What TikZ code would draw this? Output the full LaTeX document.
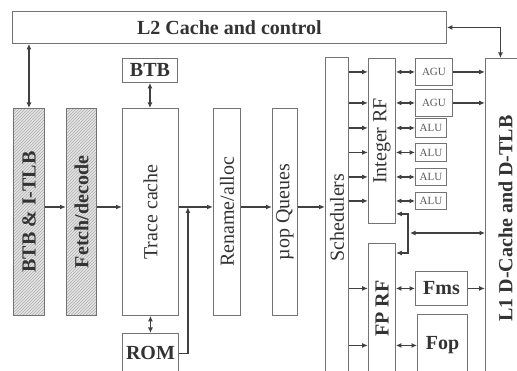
\documentclass[tikz,border=0pt]{standalone}
\usepackage{fontspec}
\setmainfont{Liberation Serif}
\usetikzlibrary{arrows.meta, patterns}

\begin{document}
\begin{tikzpicture}[
    x=1pt, y=-1pt,
    box/.style={rectangle, draw=black!55, line width=0.9pt, fill=white, anchor=north west, inner sep=0pt, text=black!80, font=\fontsize{20}{22}\selectfont},
    hatch/.style={box, preaction={fill=gray!22}, pattern=north east lines, pattern color=gray!60},
    unit/.style={box, text=black!65, font=\fontsize{11}{12}\selectfont},
    arrow/.style={-{Latex[length=6pt,width=5pt]}, line width=1.6pt, draw=black!75},
    darrow/.style={{Latex[length=5.5pt,width=5pt]}-{Latex[length=5.5pt,width=5pt]}, line width=1.6pt, draw=black!75}
]
\useasboundingbox (0,0) rectangle (517,371);
\clip (0,0) rectangle (517,371);

\node[box, minimum width=434, minimum height=32] (l2) at (12,11) {\textbf{L2 Cache and control}};
\node[box, minimum width=55, minimum height=24] (btb) at (122,58) {\textbf{BTB}};
\node[hatch, minimum width=31, minimum height=207] (itlb) at (13,108) {\rotatebox{90}{\textbf{BTB \& I-TLB}}};
\node[hatch, minimum width=30, minimum height=207] (fetch) at (66,108) {\rotatebox{90}{\textbf{Fetch/decode}}};
\node[box, minimum width=56, minimum height=207] (trace) at (122,108) {\rotatebox{90}{Trace cache}};
\node[box, minimum width=56, minimum height=40] (rom) at (122,333) {\textbf{ROM}};
\node[box, minimum width=27, minimum height=207] (rename) at (213,108) {\rotatebox{90}{Rename/alloc}};
\node[box, minimum width=25, minimum height=207] (queues) at (272,108) {\rotatebox{90}{µop Queues}};
\node[box, minimum width=23, minimum height=320] (sched) at (325,57) {\rotatebox{90}{Schedulers}};
\node[box, minimum width=27, minimum height=165] (intrf) at (368,58) {\rotatebox{90}{Integer RF}};
\node[box, minimum width=27, minimum height=130] (fprf) at (368,243) {\rotatebox{90}{\textbf{FP RF}}};
\node[unit, minimum width=37, minimum height=27] (agu1) at (415,58) {AGU};
\node[unit, minimum width=37, minimum height=27] (agu2) at (415,89) {AGU};
\node[unit, minimum width=31, minimum height=19] (alu1) at (415,118) {ALU};
\node[unit, minimum width=31, minimum height=18] (alu2) at (415,143) {ALU};
\node[unit, minimum width=31, minimum height=17] (alu3) at (415,168) {ALU};
\node[unit, minimum width=31, minimum height=17] (alu4) at (415,192) {ALU};
\node[box, minimum width=52, minimum height=34] (fms) at (415,271) {\textbf{Fms}};
\node[box, minimum width=50, minimum height=62] (fop) at (417,314) {\textbf{Fop}};
\node[box, minimum width=40, minimum height=320] (dcache) at (485,58) {\rotatebox{90}{\textbf{L1 D-Cache and D-TLB}}};

\coordinate (mid) at (0,207);
\coordinate (bus) at (408,233);

\draw[darrow] (itlb.north) -- (itlb.north |- l2.south);
\draw[darrow] (l2.east) -| ([xshift=-5pt]dcache.north);
\draw[darrow] (btb.south) -- (btb.south |- trace.north);
\draw[darrow] (trace.south) -- (trace.south |- rom.north);
\draw[arrow] (itlb.east |- mid) -- (fetch.west |- mid);
\draw[arrow] (fetch.east |- mid) -- (trace.west |- mid);
\draw[arrow] (trace.east |- mid) -- (rename.west |- mid);
\draw[arrow] (rename.east |- mid) -- (queues.west |- mid);
\draw[arrow] (queues.east |- mid) -- (sched.west |- mid);
\draw[arrow] (rom.east) -| ([xshift=9pt]trace.east |- mid);

\foreach \u in {agu1,agu2,alu1,alu2,alu3,alu4} {
    \draw[arrow] (sched.east |- \u.west) -- (intrf.west |- \u.west);
    \draw[darrow] (intrf.east |- \u.west) -- (\u.west);
}
\foreach \u in {agu1,agu2}
    \draw[arrow] (\u.east) -- (dcache.west |- \u.east);

\draw[arrow] (bus) |- ([yshift=10pt]intrf.south east);
\draw[arrow] (bus) |- ([yshift=-10pt]fprf.north east);
\draw[darrow] ([xshift=2pt]bus) -- (dcache.west |- bus);

\draw[arrow] (sched.east |- fms.west) -- (fprf.west |- fms.west);
\draw[darrow] (fprf.east |- fms.west) -- (fms.west);
\draw[arrow] (fms.east) -- (dcache.west |- fms.east);
\draw[arrow] (sched.east |- fop.west) -- (fprf.west |- fop.west);
\draw[darrow] (fprf.east |- fop.west) -- (fop.west);
\end{tikzpicture}
\end{document}
